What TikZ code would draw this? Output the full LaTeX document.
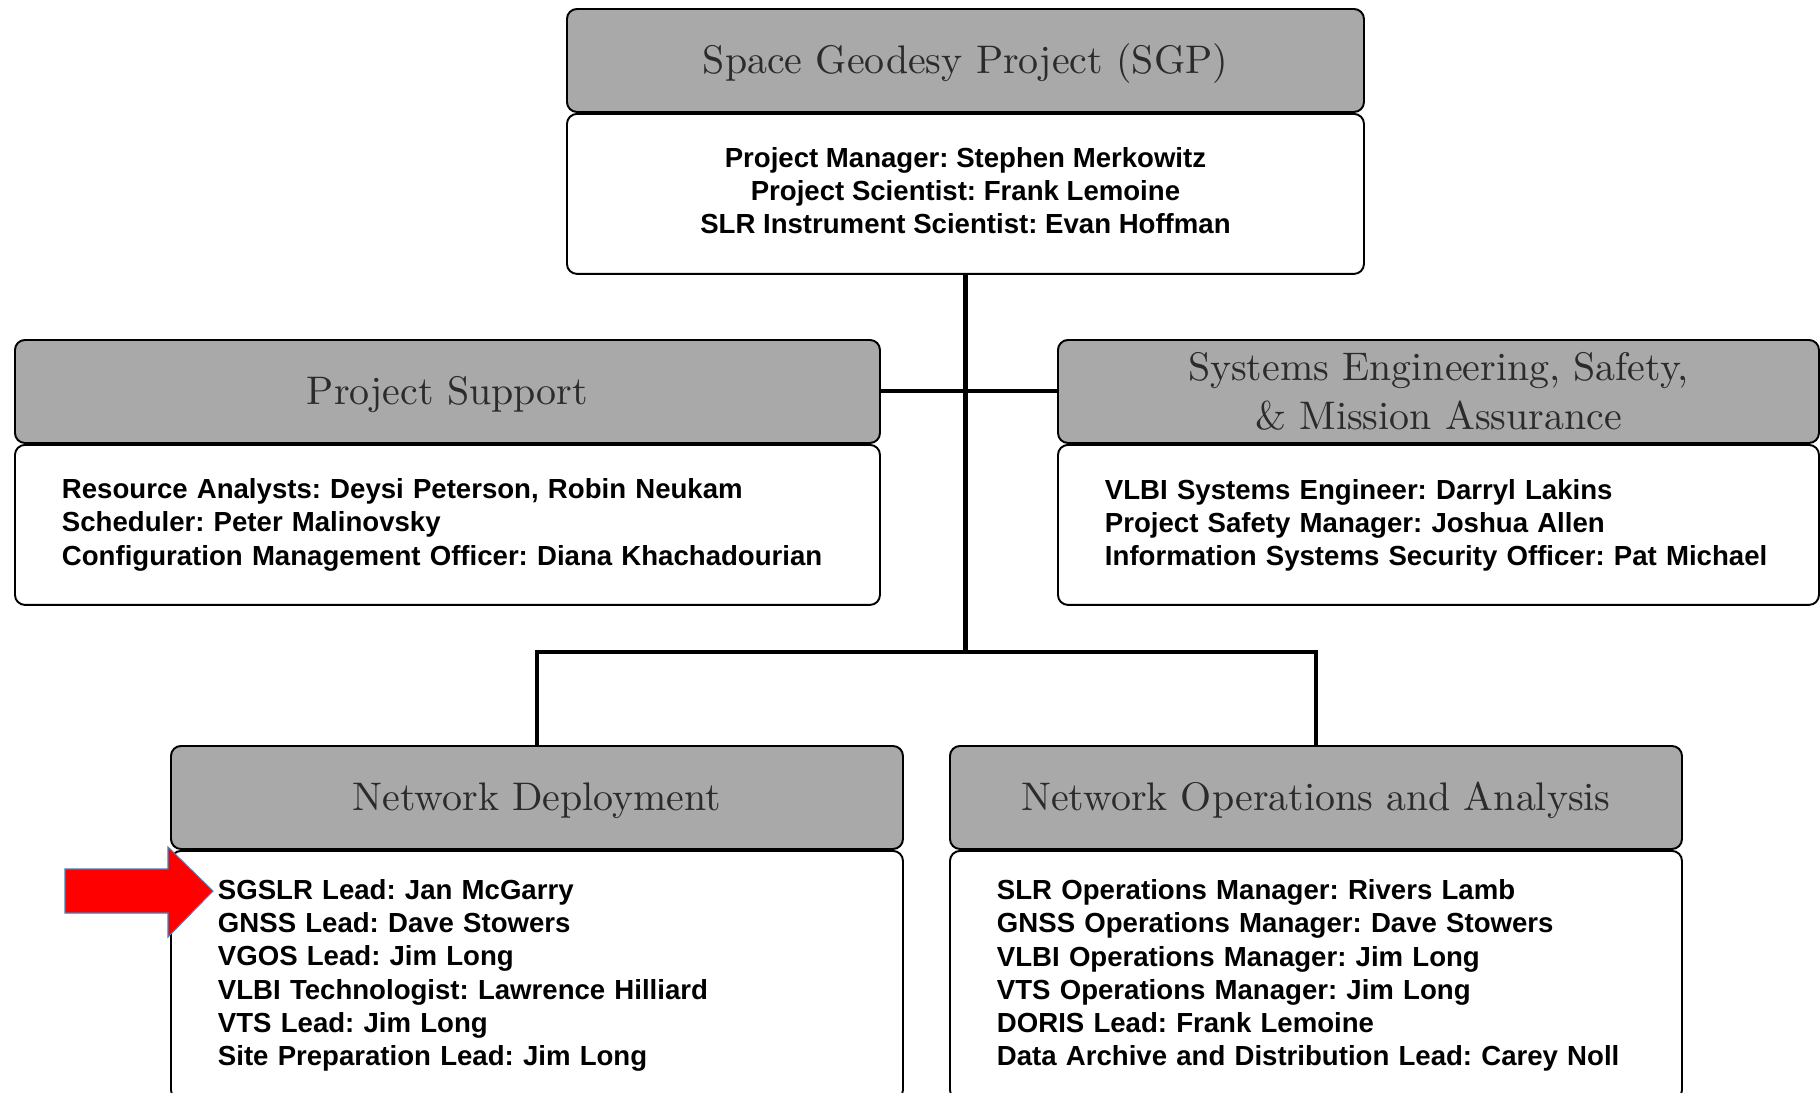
\documentclass[tikz,border=0pt]{standalone}
\usepackage{fontspec}
\newfontfamily\staff{Liberation Sans}
\newfontfamily\headfont{lmroman10-regular.otf}
\definecolor{headgray}{HTML}{A9A9A9}
\definecolor{headtext}{HTML}{2B2B2B}
\definecolor{arrowblue}{HTML}{4A7EBB}
\begin{document}
\frenchspacing
\begin{tikzpicture}[
  head/.style={draw=black,line width=1.1pt,fill=headgray,rounded corners=0.2cm,anchor=north west,
    minimum height=2.06cm,text=headtext,align=center,font=\headfont\fontsize{22.7}{27.9}\selectfont},
  oneline/.style={text height=0.73cm,text depth=0.2cm},
  members/.style={draw=black,line width=1.1pt,fill=white,rounded corners=0.2cm,anchor=north,
    inner xsep=0.94cm,inner ysep=0pt,font=\staff\bfseries\fontsize{15.7}{18.8}\selectfont},
  link/.style={line width=2.3pt}]
  \useasboundingbox (0,0) rectangle (36.4,-21.84);
  \clip (0,0) rectangle (36.4,-21.84);
  \fill[white] (0,0) rectangle (36.4,-21.84);
  % top box
  \node[head,oneline,minimum width=15.94cm] (sgp) at (11.32,-0.16) {Space Geodesy Project (SGP)};
  \node[members,minimum width=15.94cm,minimum height=3.2cm,text depth=0.14cm,align=center] (sgpstaff) at (sgp.south)
    {Project Manager: Stephen Merkowitz\\Project Scientist: Frank Lemoine\\SLR Instrument Scientist: Evan Hoffman};
  % middle row
  \node[head,oneline,minimum width=17.3cm] (support) at (0.28,-6.78) {Project Support};
  \node[members,minimum width=17.3cm,minimum height=3.2cm,text width=15.42cm,align=left] (supportstaff) at (support.south)
    {Resource Analysts: Deysi Peterson, Robin Neukam\\Scheduler: Peter Malinovsky\\Configuration Management Officer: Diana Khachadourian};
  \node[head,minimum width=15.22cm] (safety) at (21.14,-6.78) {Systems Engineering, Safety,\\\& Mission Assurance};
  \node[members,minimum width=15.22cm,minimum height=3.2cm,text width=13.34cm,align=left] (safetystaff) at (safety.south)
    {VLBI Systems Engineer: Darryl Lakins\\Project Safety Manager: Joshua Allen\\Information Systems Security Officer: Pat Michael};
  % bottom row
  \node[head,oneline,minimum width=14.64cm] (deploy) at (3.4,-14.9) {Network Deployment};
  \node[members,minimum width=14.64cm,minimum height=4.98cm,text width=12.76cm,align=left] (deploystaff) at (deploy.south)
    {SGSLR Lead: Jan McGarry\\GNSS Lead: Dave Stowers\\VGOS Lead: Jim Long\\VLBI Technologist: Lawrence Hilliard\\VTS Lead: Jim Long\\Site Preparation Lead: Jim Long};
  \node[head,oneline,minimum width=14.64cm] (ops) at (18.98,-14.9) {Network Operations and Analysis};
  \node[members,minimum width=14.64cm,minimum height=4.98cm,text width=12.76cm,align=left] (opsstaff) at (ops.south)
    {SLR Operations Manager: Rivers Lamb\\GNSS Operations Manager: Dave Stowers\\VLBI Operations Manager: Jim Long\\VTS Operations Manager: Jim Long\\DORIS Lead: Frank Lemoine\\Data Archive and Distribution Lead: Carey Noll};
  % connectors
  \coordinate (fork) at (sgpstaff.south |- 0,-13.04);
  \draw[link] (sgpstaff.south) -- (fork);
  \draw[link] (support.east) -- (safety.west);
  \draw[link] (deploy.north) |- (fork) -| (ops.north);
  % red pointer
  \filldraw[fill=red,draw=arrowblue,line width=0.6pt] (1.3,-17.38) -- (3.36,-17.38) -- (3.36,-16.94) -- (4.26,-17.82)
    -- (3.36,-18.74) -- (3.36,-18.26) -- (1.3,-18.26) -- cycle;
\end{tikzpicture}
\end{document}
